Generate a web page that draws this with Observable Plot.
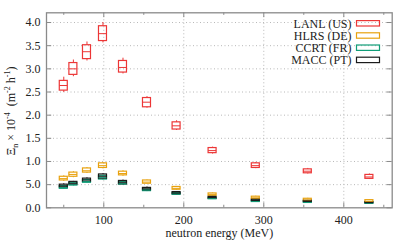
<!DOCTYPE html>
<html><head><meta charset="utf-8">
<script src="https://cdn.jsdelivr.net/npm/d3@7"></script>
<script src="https://cdn.jsdelivr.net/npm/@observablehq/plot@0.6"></script>
<style>body{margin:0;background:#fff} svg{display:block}</style>
</head><body><div id="chart"></div>
<script>
// neutron energy bins (MeV)
const energy = [50, 62, 79, 99, 124, 154, 191, 236, 290, 355, 432];

const seriesNames = ["LANL (US)", "HLRS (DE)", "CCRT (FR)", "MACC (PT)"];
const seriesColors = ["#ec3636", "#e8a210", "#109e78", "#1a1a1a"];

// LANL (US)
const lanlMed = [2.64, 3.00, 3.37, 3.76, 3.03, 2.28, 1.77, 1.235, 0.91, 0.79, 0.665];
const lanlQ1  = [2.53, 2.87, 3.21, 3.60, 2.92, 2.17, 1.69, 1.18, 0.86, 0.745, 0.625];
const lanlQ3  = [2.74, 3.125, 3.51, 3.92, 3.17, 2.37, 1.845, 1.29, 0.96, 0.83, 0.71];
const lanlLo  = [2.49, 2.83, 3.17, 3.56, 2.89, 2.15, 1.67, 1.16, 0.845, 0.73, 0.61];
const lanlHi  = [2.82, 3.19, 3.58, 4.00, 3.23, 2.40, 1.88, 1.31, 0.98, 0.85, 0.73];
// HLRS (DE)
const hlrsMed = [0.63, 0.72, 0.80, 0.91, 0.74, 0.555, 0.42, 0.29, 0.215, 0.17, 0.14];
const hlrsQ1  = [0.59, 0.67, 0.76, 0.86, 0.70, 0.52, 0.39, 0.26, 0.19, 0.145, 0.115];
const hlrsQ3  = [0.67, 0.76, 0.85, 0.96, 0.78, 0.59, 0.45, 0.31, 0.24, 0.195, 0.165];
const hlrsLo  = [0.57, 0.65, 0.74, 0.84, 0.68, 0.51, 0.38, 0.25, 0.18, 0.135, 0.105];
const hlrsHi  = [0.69, 0.78, 0.87, 0.98, 0.80, 0.60, 0.46, 0.32, 0.25, 0.205, 0.175];
// CCRT (FR)
const ccrtMed = [0.44, 0.51, 0.57, 0.65, 0.53, 0.39, 0.30, 0.20, 0.14, 0.12, 0.095];
const ccrtQ1  = [0.41, 0.48, 0.54, 0.61, 0.50, 0.36, 0.28, 0.185, 0.125, 0.105, 0.085];
const ccrtQ3  = [0.47, 0.54, 0.60, 0.69, 0.56, 0.42, 0.32, 0.215, 0.155, 0.135, 0.105];
const ccrtLo  = [0.40, 0.47, 0.53, 0.60, 0.49, 0.35, 0.27, 0.18, 0.12, 0.10, 0.08];
const ccrtHi  = [0.48, 0.55, 0.62, 0.70, 0.57, 0.43, 0.33, 0.22, 0.16, 0.14, 0.11];
// MACC (PT)
const maccMed = [0.47, 0.53, 0.60, 0.68, 0.55, 0.41, 0.32, 0.22, 0.16, 0.14, 0.11];
const maccQ1  = [0.44, 0.50, 0.56, 0.63, 0.51, 0.38, 0.295, 0.20, 0.145, 0.125, 0.10];
const maccQ3  = [0.50, 0.56, 0.63, 0.72, 0.58, 0.43, 0.34, 0.235, 0.175, 0.15, 0.12];
const maccLo  = [0.43, 0.49, 0.55, 0.62, 0.50, 0.37, 0.285, 0.19, 0.14, 0.12, 0.095];
const maccHi  = [0.52, 0.57, 0.65, 0.74, 0.60, 0.45, 0.35, 0.245, 0.18, 0.16, 0.125];

const xTicks = [100, 200, 300, 400];
const xMinor = [50, 150, 250, 350, 450];
const yTicks = [0, 0.5, 1.0, 1.5, 2.0, 2.5, 3.0, 3.5, 4.0];
const yTickLabels = ["0.0", "5.0", "1.0", "1.5", "2.0", "2.5", "3.0", "3.5", "4.0"];
const xLabel = "neutron energy (MeV)";

const xDomain = [28.4, 460.5];
const yDomain = [0, 4.21];

const seriesData = [
  [lanlMed, lanlQ1, lanlQ3, lanlLo, lanlHi],
  [hlrsMed, hlrsQ1, hlrsQ3, hlrsLo, hlrsHi],
  [ccrtMed, ccrtQ1, ccrtQ3, ccrtLo, ccrtHi],
  [maccMed, maccQ1, maccQ3, maccLo, maccHi]
];
const rows = seriesData.flatMap(([m, q1, q3, lo, hi], s) =>
  energy.map((e, i) => ({name: seriesNames[s], e, med: m[i], q1: q1[i], q3: q3[i], lo: lo[i], hi: hi[i]})));

const hw = 5; // half box width in MeV units
const font = "'Liberation Serif', 'Times New Roman', serif";
const axisColor = "#8a8a8a";

const plot = Plot.plot({
  width: 411, height: 247,
  marginLeft: 46, marginRight: 19.3, marginTop: 12.3, marginBottom: 39.7,
  style: {fontFamily: font, fontSize: "12px", color: "#222", background: "#fff"},
  x: {domain: xDomain},
  y: {domain: yDomain},
  color: {domain: seriesNames, range: seriesColors},
  marks: [
    Plot.gridX(xTicks, {stroke: "#b8b8b8", strokeOpacity: 1, strokeDasharray: "1,2.5"}),
    Plot.gridY(yTicks.slice(1), {stroke: "#b8b8b8", strokeOpacity: 1, strokeDasharray: "1,2.5"}),
    Plot.axisX(xTicks, {anchor: "bottom", tickSize: 0, tickPadding: 8, label: null, fontSize: 12, tickFormat: d => String(d)}),
    Plot.axisY(yTicks, {anchor: "left", tickSize: 0, tickPadding: 6, label: null, fontSize: 12, tickFormat: d => yTickLabels[yTicks.indexOf(d)]}),
    // ticks pointing inward, mirrored on all four sides
    Plot.ruleX(xTicks, {x: d => d, y1: yDomain[0], y2: yDomain[0] + 0.105, stroke: axisColor}),
    Plot.ruleX(xTicks, {x: d => d, y1: yDomain[1], y2: yDomain[1] - 0.105, stroke: axisColor}),
    Plot.ruleX(xMinor, {x: d => d, y1: yDomain[0], y2: yDomain[0] + 0.055, stroke: axisColor}),
    Plot.ruleX(xMinor, {x: d => d, y1: yDomain[1], y2: yDomain[1] - 0.055, stroke: axisColor}),
    Plot.ruleY(yTicks, {y: d => d, x1: xDomain[0], x2: xDomain[0] + 6.5, stroke: axisColor}),
    Plot.ruleY(yTicks, {y: d => d, x1: xDomain[1], x2: xDomain[1] - 6.5, stroke: axisColor}),
    // box plots
    Plot.ruleX(rows, {x: "e", y1: "q3", y2: "hi", stroke: "name", strokeWidth: 1}),
    Plot.ruleX(rows, {x: "e", y1: "lo", y2: "q1", stroke: "name", strokeWidth: 1}),
    Plot.rect(rows, {x1: d => d.e - hw, x2: d => d.e + hw, y1: "q1", y2: "q3", stroke: "name", fill: "none", strokeWidth: 1.2}),
    Plot.ruleY(rows, {y: "med", x1: d => d.e - hw, x2: d => d.e + hw, stroke: "name", strokeWidth: 1}),
    Plot.frame({stroke: axisColor, strokeWidth: 1.3}),
    Plot.text([xLabel], {text: d => d, frameAnchor: "bottom", dy: 25, lineAnchor: "middle", fontSize: 12})
  ]
});
document.getElementById("chart").append(plot);

const svg = d3.select(plot);
// y-axis label with sub/superscripts
const yl = svg.append("text")
  .attr("transform", "translate(11,111) rotate(-90)")
  .attr("text-anchor", "middle")
  .attr("dy", "0.35em")
  .attr("font-family", font).attr("font-size", 12).attr("fill", "#222");
yl.append("tspan").text("Ξ");
yl.append("tspan").attr("font-size", 8).attr("dy", "3").text("n");
yl.append("tspan").attr("dy", "-3").text(" × 10");
yl.append("tspan").attr("font-size", 8).attr("dy", "-5").text("-4");
yl.append("tspan").attr("dy", "5").text("  (m");
yl.append("tspan").attr("font-size", 8).attr("dy", "-5").text("-2");
yl.append("tspan").attr("dy", "5").text(" h");
yl.append("tspan").attr("font-size", 8).attr("dy", "-5").text("-1");
yl.append("tspan").attr("dy", "5").text(")");

// legend (inside the plot, top right)
const lg = svg.append("g").attr("font-family", font).attr("font-size", 12).attr("fill", "#222");
seriesNames.forEach((n, i) => {
  const cy = 23.3 + i * 12.2;
  lg.append("text").attr("x", 351.5).attr("y", cy).attr("dy", "0.35em").attr("text-anchor", "end").text(n);
  lg.append("rect").attr("x", 356.5).attr("y", cy - 2.7).attr("width", 23).attr("height", 5.4)
    .attr("fill", "none").attr("stroke", seriesColors[i]).attr("stroke-width", 1.2);
});
</script></body></html>
